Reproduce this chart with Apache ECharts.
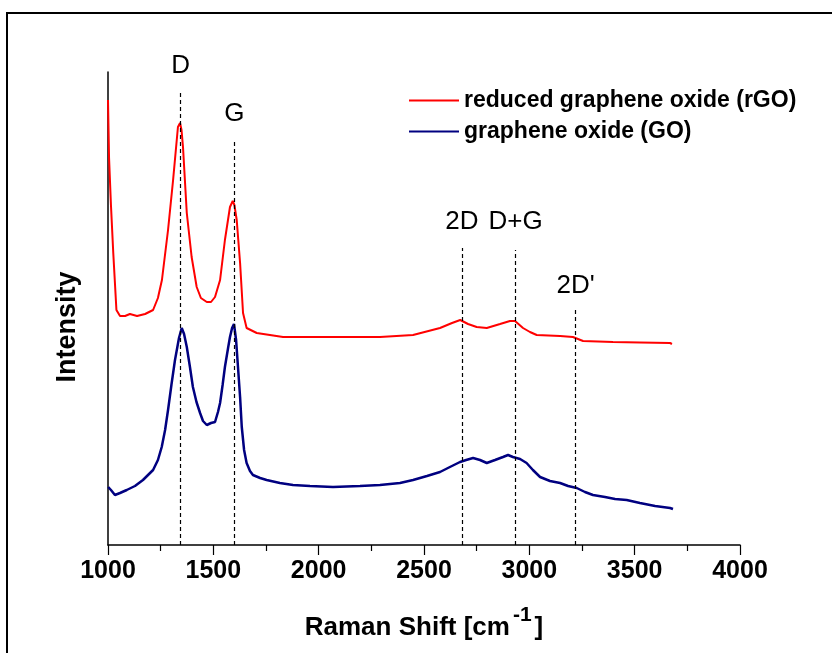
<!DOCTYPE html>
<html>
<head>
<meta charset="utf-8">
<script src="https://cdn.jsdelivr.net/npm/echarts@6/dist/echarts.min.js"></script>
<style>html,body{margin:0;padding:0;background:#fff}#c{width:832px;height:653px}</style>
</head>
<body>
<div id="c"></div>
<script>
// Raman shift (cm^-1) and intensity (arb. units)
const waveRGO = [1000,1004,1005,1014,1025,1040,1057,1081,1104,1138,1176,1214,1237,1256,1285,1309,1332,1342,1349,1356,1374,1397,1421,1441,1469,1489,1508,1532,1555,1579,1592,1600,1611,1627,1641,1658,1706,1831,2068,2291,2448,2576,2633,2672,2709,2750,2798,2861,2908,2932,2970,3003,3035,3146,3207,3231,3255,3397,3525,3668,3677];
const intRGO  = [445,443,387,340,292,235,229,229,231,229,231,235,247,265,315,365,418,422,415,398,332,288,258,247,243,243,248,265,305,338,344,340,325,282,232,217,212,208,208,208,210,217,222,225,221,218,217,221,224,224,217,213,210,209,208,206,204,203,202.5,202,201];
const waveGO = [1001,1014,1033,1057,1089,1128,1166,1214,1237,1255,1271,1285,1301,1318,1337,1350,1361,1374,1389,1403,1420,1437,1451,1469,1489,1508,1522,1532,1544,1555,1570,1579,1589,1598,1608,1617,1627,1635,1646,1658,1674,1688,1722,1753,1816,1878,1959,2068,2196,2291,2386,2448,2514,2576,2623,2671,2700,2733,2766,2798,2837,2875,2899,2922,2956,2987,3017,3051,3098,3146,3184,3225,3264,3302,3359,3407,3462,3525,3597,3668,3682];
const intGO  = [58,55,50,52,55,59,65,75,85,98,115,135,160,185,207,217,211,198,178,158,143,132,124,120,122,123,133,142,160,178,197,208,217,221,205,178,148,118,95,82,74,70,67,65,62,60,59,58,59,60,62,65,69,73,78,83,85,87,85,82,85,88,90,88,86,82,75,68,64,62,59,57,53,50,48,46,45,42,39,37,36];
// Peak markers
const peakNames = ['D','G','2D','D+G',"2D'"];
const peakPos   = [1345,1600,2680,2935,3220];
const peakTop   = [455,405,297,295,238];
const labelDist = [11,13,13,15,8];
// Axis
const xTicks = [1000,1500,2000,2500,3000,3500,4000];

const FONT = "'Liberation Sans', Arial, sans-serif";
const chart = echarts.init(document.getElementById('c'));
const markData = peakNames.map((n,i)=>[
  {name:n, coord:[peakPos[i],0]},
  {coord:[peakPos[i],peakTop[i]], label:{distance:labelDist[i]}}
]);
chart.setOption({
  animation:false,
  backgroundColor:'#fff',
  grid:{left:108,right:92,top:72,bottom:108},
  legend:{
    orient:'vertical', left:404, top:84, itemWidth:50, itemHeight:2, itemGap:8, icon:'rect',
    textStyle:{fontFamily:FONT,fontWeight:'bold',fontSize:23,color:'#000'},
    data:['reduced graphene oxide (rGO)','graphene oxide (GO)']
  },
  xAxis:{
    type:'value', min:xTicks[0], max:xTicks[xTicks.length-1], interval:500,
    axisLine:{show:true,onZero:false,lineStyle:{color:'#000',width:1.5}},
    axisTick:{show:true,length:10,lineStyle:{color:'#000',width:1.2}},
    minorTick:{show:true,splitNumber:2,length:6,lineStyle:{color:'#000',width:1.2}},
    splitLine:{show:false},
    axisLabel:{fontFamily:FONT,fontWeight:'bold',fontSize:25,color:'#000',margin:14,formatter:v=>String(v)},
    name:'Raman Shift [cm{sup|-1}]', nameLocation:'middle', nameGap:60,
    nameTextStyle:{fontFamily:FONT,fontWeight:'bold',fontSize:26,color:'#000',
      rich:{sup:{fontFamily:FONT,fontWeight:'bold',fontSize:21,color:'#000',padding:[0,3,24,3]}}}
  },
  yAxis:{
    type:'value', min:0, max:473,
    axisLine:{show:true,lineStyle:{color:'#000',width:1.5}},
    axisTick:{show:false}, axisLabel:{show:false}, splitLine:{show:false}
  },
  graphic:[
    {type:'rect',shape:{x:7,y:13,width:900,height:900},style:{fill:'none',stroke:'#000',lineWidth:2},silent:true},
    {type:'text',x:68,y:327,rotation:Math.PI/2,style:{text:'Intensity',font:"bold 27px "+FONT,fill:'#000',align:'center',verticalAlign:'middle'}}
  ],
  series:[
    {name:'reduced graphene oxide (rGO)',type:'line',symbol:'none',showSymbol:false,
     data:waveRGO.map((w,i)=>[w,intRGO[i]]),
     lineStyle:{color:'#ff0000',width:2},itemStyle:{color:'#ff0000'},z:3,
     markLine:{silent:true,symbol:'none',
       lineStyle:{color:'#000',width:1.2,type:[4,3]},
       label:{show:true,position:'end',formatter:'{b}',fontFamily:FONT,fontSize:26,color:'#000'},
       data:markData}
    },
    {name:'graphene oxide (GO)',type:'line',symbol:'none',showSymbol:false,
     data:waveGO.map((w,i)=>[w,intGO[i]]),
     lineStyle:{color:'#000080',width:2.5},itemStyle:{color:'#000080'},z:3}
  ]
});
</script>
</body>
</html>
